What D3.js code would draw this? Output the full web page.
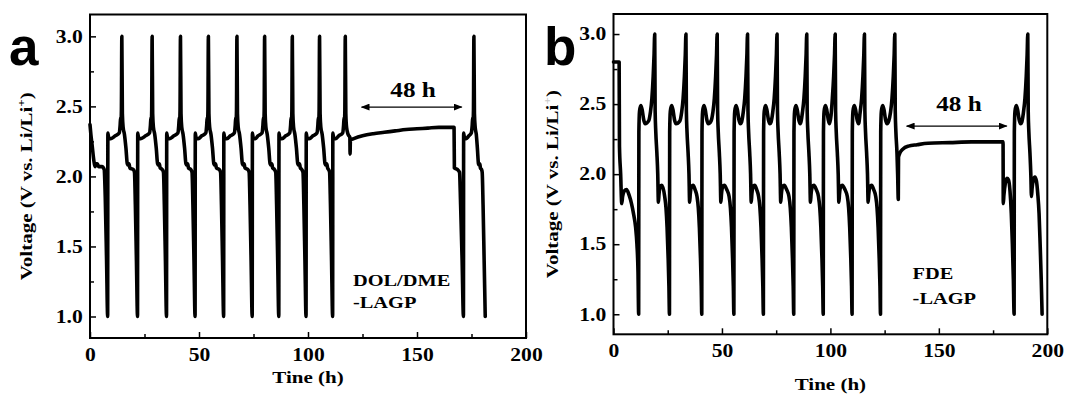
<!DOCTYPE html>
<html><head><meta charset="utf-8">
<script src="https://cdn.jsdelivr.net/npm/d3@7/dist/d3.min.js"></script>
<style>
html,body{margin:0;padding:0;background:#fff;}
svg{display:block;}
</style></head><body>
<svg id="chart" width="1065" height="400"></svg>
<script>
// Axis ticks shared by both panels
const xTicks = [0, 50, 100, 150, 200];
const xMinorTicks = [25, 75, 125, 175];
const yTicks = [1.0, 1.5, 2.0, 2.5, 3.0];
const yMinorTicks = [1.25, 1.75, 2.25, 2.75];
const yTickLabels = ["1.0", "1.5", "2.0", "2.5", "3.0"];
const xTitle = "Tine (h)";

// Panel a: DOL/DME-LAGP cell, [time (h), voltage (V)]
const voltageA = [
  [0,2.37],[0.4,2.3],[1.0,2.22],[1.7,2.12],[2.3,2.07],[2.8,2.09],[3.4,2.09],[4.0,2.07],[5.5,2.07],[6.5,2.05],[7.0,1.85],[7.6,1.4],[8.1,1.0],
  [8.2,2.31],[8.6,2.27],[9.6,2.27],[11.6,2.29],[13.4,2.31],[13.8,2.36],[14.05,2.42],[14.25,2.40],[14.4,2.47],[14.6,3.0],
  [14.85,2.45],[15.2,2.35],[15.8,2.3],[16.5,2.2],[17.1,2.09],[17.5,2.08],[17.9,2.09],[18.3,2.06],[19.8,2.05],[20.4,2.03],[20.8,1.8],[21.3,1.4],[21.8,1.0],
  [21.9,2.31],[22.3,2.27],[23.3,2.27],[25.5,2.29],[27.3,2.31],[27.7,2.36],[27.95,2.42],[28.15,2.4],[28.3,2.47],[28.5,3.0],
  [28.75,2.45],[29.1,2.35],[29.7,2.3],[30.4,2.2],[31.0,2.09],[31.4,2.08],[31.8,2.09],[32.2,2.06],[33.1,2.05],[33.7,2.03],[34.1,1.8],[34.6,1.4],[35.1,1.0],
  [35.2,2.31],[35.6,2.27],[36.6,2.27],[38.5,2.29],[40.3,2.31],[40.7,2.36],[40.95,2.42],[41.15,2.4],[41.3,2.47],[41.5,3.0],
  [41.75,2.45],[42.1,2.35],[42.7,2.3],[43.4,2.2],[44.0,2.09],[44.4,2.08],[44.8,2.09],[45.2,2.06],[46.2,2.05],[46.8,2.03],[47.2,1.8],[47.7,1.4],[48.2,1.0],
  [48.3,2.31],[48.7,2.27],[49.7,2.27],[51.3,2.29],[53.1,2.31],[53.5,2.36],[53.75,2.42],[53.95,2.4],[54.1,2.47],[54.3,3.0],
  [54.55,2.45],[54.9,2.35],[55.5,2.3],[56.2,2.2],[56.8,2.09],[57.2,2.08],[57.6,2.09],[58.0,2.06],[59.3,2.05],[59.9,2.03],[60.3,1.8],[60.8,1.4],[61.3,1.0],
  [61.4,2.31],[61.8,2.27],[62.8,2.27],[64.4,2.29],[66.2,2.31],[66.6,2.36],[66.85,2.42],[67.05,2.4],[67.2,2.47],[67.4,3.0],
  [67.65,2.45],[68.0,2.35],[68.6,2.3],[69.3,2.2],[69.9,2.09],[70.3,2.08],[70.7,2.09],[71.1,2.06],[72.4,2.05],[73.0,2.03],[73.4,1.8],[73.9,1.4],[74.4,1.0],
  [74.5,2.31],[74.9,2.27],[75.9,2.27],[77.1,2.29],[78.9,2.31],[79.3,2.36],[79.55,2.42],[79.75,2.4],[79.9,2.47],[80.1,3.0],
  [80.35,2.45],[80.7,2.35],[81.3,2.3],[82.0,2.2],[82.6,2.09],[83.0,2.08],[83.4,2.09],[83.8,2.06],[84.6,2.05],[85.2,2.03],[85.6,1.8],[86.1,1.4],[86.6,1.0],
  [86.7,2.31],[87.1,2.27],[88.1,2.27],[89.8,2.29],[91.6,2.31],[92.0,2.36],[92.25,2.42],[92.45,2.4],[92.6,2.47],[92.8,3.0],
  [93.05,2.45],[93.4,2.35],[94.0,2.3],[94.7,2.2],[95.3,2.09],[95.7,2.08],[96.1,2.09],[96.5,2.06],[97.1,2.05],[97.7,2.03],[98.1,1.8],[98.6,1.4],[99.1,1.0],
  [99.2,2.31],[99.6,2.27],[100.6,2.27],[102.3,2.29],[104.1,2.31],[104.5,2.36],[104.75,2.42],[104.95,2.4],[105.1,2.47],[105.3,3.0],
  [105.55,2.45],[105.9,2.35],[106.5,2.3],[107.2,2.2],[107.8,2.09],[108.2,2.08],[108.6,2.09],[109.0,2.06],[109.4,2.05],[109.9,2.03],[110.3,1.8],[110.8,1.4],[111.3,1.0],
  [111.4,2.31],[111.8,2.27],[112.8,2.27],[114.1,2.29],[115.9,2.31],[116.3,2.36],[116.55,2.42],[116.75,2.4],[116.9,2.47],[117.1,3.0],
  [117.35,2.45],[117.7,2.35],[118.4,2.3],[119.2,2.28],[119.3,2.16],[119.45,2.26],[121,2.27],[125,2.29],[130,2.305],[135,2.315],[140,2.325],[145,2.335],[150,2.34],[155,2.345],[160,2.35],[167.0,2.35],
  [167.15,2.06],[168.5,2.05],[169.5,2.03],[170.0,1.8],[170.7,1.4],[171.3,1.0],
  [171.4,2.31],[171.8,2.27],[172.6,2.27],[173.8,2.29],[174.9,2.31],[175.3,2.36],[175.55,2.42],[175.75,2.4],[175.9,2.47],[176.1,3.0],
  [176.35,2.45],[176.7,2.35],[177.2,2.3],[177.7,2.2],[178.2,2.09],[178.5,2.08],[178.8,2.09],[179.1,2.06],[179.6,2.05],[179.9,2.03],[180.3,1.8],[180.8,1.4],[181.3,1.0]
];

// Panel b: FDE-LAGP cell, [time (h), voltage (V)]
const voltageB = [
  [0,2.8],[2.6,2.8],[2.75,2.2],[3.3,2.0],[3.8,1.79],[4.2,1.84],[5.0,1.88],[6.0,1.89],[7.2,1.85],[8.3,1.79],[9.2,1.72],[10.2,1.62],[10.8,1.5],[11.3,1.3],[11.6,1.0],
  [11.7,2.3],[12.0,2.45],[12.6,2.49],[13.2,2.46],[13.9,2.39],[14.6,2.36],[16.2,2.38],[17.0,2.44],[17.7,2.54],[18.3,2.7],[18.7,2.85],[19.0,3.0],
  [19.2,2.45],[19.5,2.3],[20.0,2.15],[20.4,2.0],[20.7,1.8],[21.0,1.86],[21.6,1.91],[22.3,1.92],[23.6,1.84],[24.2,1.76],[24.7,1.62],[25.2,1.4],[25.55,1.2],[25.8,1.0],
  [25.9,2.3],[26.2,2.45],[26.8,2.49],[27.4,2.46],[28.1,2.39],[28.8,2.36],[30.6,2.38],[31.4,2.44],[32.1,2.54],[32.7,2.7],[33.1,2.85],[33.4,3.0],
  [33.6,2.45],[33.9,2.3],[34.4,2.15],[34.8,2.0],[35.1,1.8],[35.4,1.86],[36.0,1.91],[36.7,1.92],[37.6,1.89],[38.5,1.84],[39.1,1.76],[39.6,1.62],[40.1,1.4],[40.45,1.2],[40.7,1.0],
  [40.8,2.3],[41.1,2.45],[41.7,2.49],[42.3,2.46],[43.0,2.39],[43.7,2.36],[45.0,2.38],[45.8,2.44],[46.5,2.54],[47.1,2.7],[47.5,2.85],[47.8,3.0],
  [48.0,2.45],[48.3,2.3],[48.8,2.15],[49.2,2.0],[49.5,1.8],[49.8,1.86],[50.4,1.91],[51.1,1.92],[52.2,1.89],[53.3,1.84],[53.9,1.76],[54.4,1.62],[54.9,1.4],[55.25,1.2],[55.5,1.0],
  [55.6,2.3],[55.9,2.45],[56.5,2.49],[57.1,2.46],[57.8,2.39],[58.5,2.36],[59.0,2.37],[59.8,2.44],[60.5,2.54],[61.1,2.7],[61.5,2.85],[61.8,3.0],
  [62.0,2.45],[62.3,2.3],[62.8,2.15],[63.2,2.0],[63.5,1.8],[63.8,1.86],[64.4,1.91],[65.1,1.92],[66.0,1.89],[66.9,1.84],[67.5,1.76],[68.0,1.62],[68.5,1.4],[68.85,1.2],[69.1,1.0],
  [69.2,2.3],[69.5,2.45],[70.1,2.49],[70.7,2.46],[71.4,2.39],[72.1,2.36],[72.6,2.37],[73.4,2.44],[74.1,2.54],[74.7,2.7],[75.1,2.85],[75.4,3.0],
  [75.6,2.45],[75.9,2.3],[76.4,2.15],[76.8,2.0],[77.1,1.8],[77.4,1.86],[78.0,1.91],[78.7,1.92],[79.8,1.89],[80.9,1.84],[81.5,1.76],[82.0,1.62],[82.5,1.4],[82.85,1.2],[83.1,1.0],
  [83.2,2.3],[83.5,2.45],[84.1,2.49],[84.7,2.46],[85.4,2.39],[86.1,2.36],[87.1,2.44],[87.8,2.54],[88.4,2.7],[88.8,2.85],[89.1,3.0],
  [89.3,2.45],[89.6,2.3],[90.1,2.15],[90.5,2.0],[90.8,1.8],[91.1,1.86],[91.7,1.91],[92.4,1.92],[93.5,1.89],[94.5,1.84],[95.1,1.76],[95.6,1.62],[96.1,1.4],[96.45,1.2],[96.7,1.0],
  [96.8,2.3],[97.1,2.45],[97.7,2.49],[98.3,2.46],[99.0,2.39],[99.6,2.36],[100.3,2.42],[100.9,2.54],[101.5,2.7],[101.9,2.85],[102.2,3.0],
  [102.4,2.45],[102.7,2.3],[103.2,2.15],[103.6,2.0],[103.9,1.8],[104.2,1.86],[104.8,1.91],[105.5,1.92],[106.7,1.89],[107.8,1.84],[108.4,1.76],[108.9,1.62],[109.4,1.4],[109.75,1.2],[110.0,1.0],
  [110.1,2.3],[110.4,2.45],[111.0,2.49],[111.6,2.46],[112.3,2.39],[113.0,2.36],[113.7,2.44],[114.4,2.54],[115.0,2.7],[115.4,2.85],[115.7,3.0],
  [115.9,2.45],[116.2,2.3],[116.7,2.15],[117.1,2.0],[117.4,1.8],[117.7,1.86],[118.3,1.91],[119.0,1.92],[119.95,1.89],[120.9,1.84],[121.5,1.76],[122.0,1.62],[122.5,1.4],[122.85,1.2],[123.1,1.0],
  [123.2,2.3],[123.5,2.45],[124.1,2.49],[124.7,2.46],[125.4,2.39],[126.1,2.36],[126.9,2.38],[127.7,2.44],[128.4,2.54],[129.0,2.7],[129.4,2.85],[129.7,3.0],
  [129.9,2.45],[130.2,2.3],[130.7,2.15],[131.0,2.0],[131.3,1.82],[131.4,2.12],[132.0,2.15],[133.5,2.18],[136,2.2],[140,2.21],[145,2.22],[155,2.225],[165,2.23],[179.6,2.23],
  [179.7,1.79],[180.0,1.85],[180.6,1.93],[181.4,1.97],[182.1,1.96],[182.8,1.88],[183.4,1.72],[183.9,1.5],[184.35,1.25],[184.7,1.0],
  [184.8,2.3],[185.1,2.45],[185.7,2.49],[186.3,2.46],[187.0,2.39],[187.7,2.36],[188.2,2.37],[189.0,2.44],[189.7,2.54],[190.3,2.7],[190.7,2.85],[191.0,3.0],
  [191.2,2.45],[191.5,2.3],[192.0,2.15],[192.4,2.0],[192.7,1.84],[193.0,1.9],[193.6,1.96],[194.3,1.98],[195.0,1.95],[195.6,1.86],[196.2,1.72],[196.7,1.5],[197.2,1.25],[197.6,1.0]
];

// Rest-period annotation: arrow span (h) and label
const restSpanA = [124.6, 170.5];
const restSpanB = [135.2, 181.3];
const restLabel = "48 h";

// Panel layout (pixels) and per-panel text
const panels = [
  { letter: "a", data: voltageA, left: 90, right: 526, top: 14.5, bottom: 338,
    yDomain: [0.8465, 3.156], span: restSpanA, arrowV: 2.495, labelT: 148.2, labelV: 2.57,
    note: ["DOL/DME", "-LAGP"], noteT: 120.6, noteV: [1.22, 1.06],
    letterX: 9, ylabX: 26, plusFill: "#000", xTitleY: 383 },
  { letter: "b", data: voltageB, left: 613.5, right: 1047.3, top: 14, bottom: 334.3,
    yDomain: [0.857, 3.143], span: restSpanB, arrowV: 2.343, labelT: 159.3, labelV: 2.45,
    note: ["FDE", "-LAGP"], noteT: 137.9, noteV: [1.25, 1.07],
    letterX: 544, ylabX: 552, plusFill: "#c8c8c8", xTitleY: 390 }
];

const SERIF = "'Liberation Serif', 'Times New Roman', serif";
const SANS = "'Liberation Sans', Arial, sans-serif";
const WIDE = 1.2;   // horizontal stretch of the serif lettering
const svg = d3.select("#chart");

const defs = svg.append("defs");
defs.append("marker").attr("id", "arrowhead")
  .attr("viewBox", "0 0 10 8").attr("refX", 9).attr("refY", 4)
  .attr("markerWidth", 9).attr("markerHeight", 7).attr("markerUnits", "userSpaceOnUse")
  .attr("orient", "auto-start-reverse")
  .append("path").attr("d", "M0,0 L10,4 L0,8 Z").attr("fill", "#000");

function serif(sel, size) {
  return sel.style("font-family", SERIF).style("font-weight", "bold")
    .style("font-size", size + "px").attr("fill", "#000");
}

panels.forEach(p => {
  const x = d3.scaleLinear().domain([0, 200]).range([p.left, p.right]);
  const y = d3.scaleLinear().domain(p.yDomain).range([p.bottom, p.top]);
  const g = svg.append("g");

  // minor ticks
  g.append("g").attr("transform", `translate(0,${p.bottom})`)
    .call(d3.axisBottom(x).tickValues(xMinorTicks).tickSize(-4).tickFormat(""))
    .call(a => a.select(".domain").remove());
  g.append("g").attr("transform", `translate(${p.left},0)`)
    .call(d3.axisLeft(y).tickValues(yMinorTicks).tickSize(-4).tickFormat(""))
    .call(a => a.select(".domain").remove());

  // major ticks with labels
  const xa = g.append("g").attr("transform", `translate(0,${p.bottom})`)
    .call(d3.axisBottom(x).tickValues(xTicks).tickSize(-6).tickPadding(10).tickFormat(d3.format("d")));
  const ya = g.append("g").attr("transform", `translate(${p.left},0)`)
    .call(d3.axisLeft(y).tickValues(yTicks).tickSize(-6).tickPadding(6)
      .tickFormat((d, i) => yTickLabels[i]));
  [xa, ya].forEach(a => {
    a.select(".domain").remove();
    serif(a.selectAll("text"), 18).attr("transform", `scale(${WIDE},1)`);
  });
  g.selectAll(".tick line").attr("stroke", "#000").attr("stroke-width", 1.5);

  // frame
  g.append("rect").attr("x", p.left).attr("y", p.top)
    .attr("width", p.right - p.left).attr("height", p.bottom - p.top)
    .attr("fill", "none").attr("stroke", "#000").attr("stroke-width", 2);

  // voltage profile
  const line = d3.line().x(d => x(d[0])).y(d => y(d[1])).curve(d3.curveMonotoneX);
  g.append("path").datum(p.data).attr("d", line)
    .attr("fill", "none").attr("stroke", "#000").attr("stroke-width", 3.6)
    .attr("stroke-linejoin", "round").attr("stroke-linecap", "round");

  // rest-period arrow and label
  g.append("line")
    .attr("x1", x(p.span[0])).attr("x2", x(p.span[1]))
    .attr("y1", y(p.arrowV)).attr("y2", y(p.arrowV))
    .attr("stroke", "#000").attr("stroke-width", 1.3)
    .attr("marker-start", "url(#arrowhead)").attr("marker-end", "url(#arrowhead)");
  serif(g.append("text"), 21).attr("text-anchor", "middle")
    .attr("transform", `translate(${x(p.labelT)},${y(p.labelV)}) scale(${WIDE},1)`)
    .text(restLabel);

  // electrolyte note
  p.note.forEach((s, i) => {
    serif(g.append("text"), 17)
      .attr("transform", `translate(${x(p.noteT)},${y(p.noteV[i])}) scale(${WIDE},1)`)
      .text(s);
  });

  // axis titles
  serif(g.append("text"), 17.5).attr("text-anchor", "middle")
    .attr("transform", `translate(${(p.left + p.right) / 2},${p.xTitleY}) scale(${WIDE},1)`)
    .text(xTitle);
  const yl = serif(g.append("text"), 17.5).attr("text-anchor", "middle")
    .attr("transform", `translate(${p.ylabX + 6},${(p.top + p.bottom) / 2 + 10}) rotate(-90) scale(${WIDE},1)`);
  yl.append("tspan").text("Voltage (V vs. Li/Li");
  yl.append("tspan").style("font-size", "11px").attr("dy", -7).attr("fill", p.plusFill).text("+");
  yl.append("tspan").attr("dy", 7).text(")");

  // panel letter
  g.append("text").attr("x", p.letterX).attr("y", 65)
    .style("font-family", SANS).style("font-weight", "bold")
    .style("font-size", "53px").attr("fill", "#000").text(p.letter);
});
</script>
</body></html>
